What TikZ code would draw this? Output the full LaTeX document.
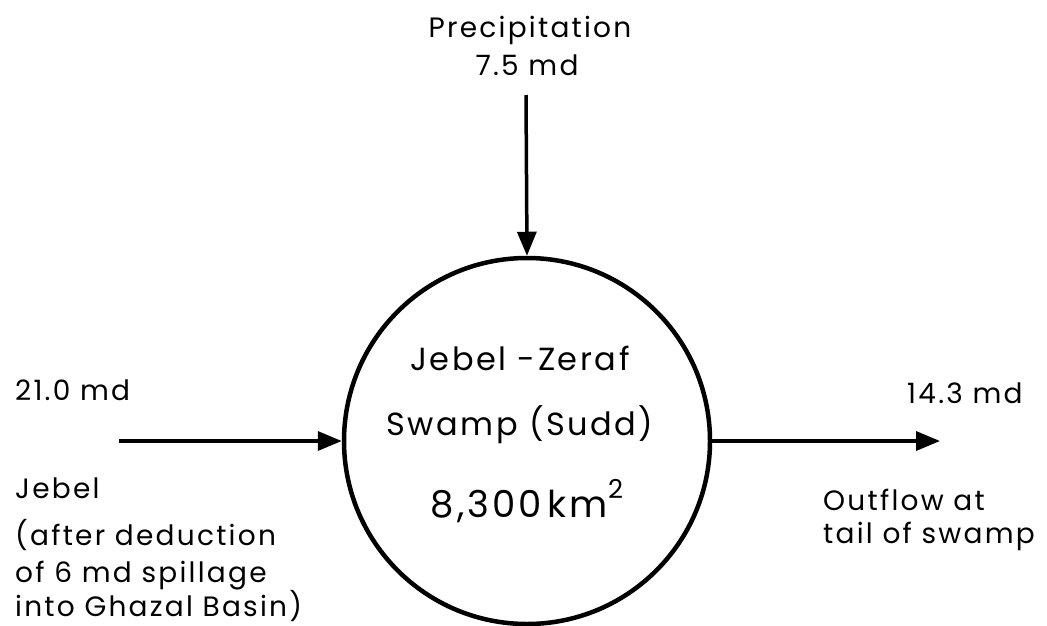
\documentclass[tikz,border=0pt]{standalone}
\usepackage{fontspec}
\setmainfont{Poppins}[LetterSpace=8]
\usetikzlibrary{arrows.meta}
\begin{document}
\begin{tikzpicture}[x=1pt,y=-1pt,
  txt/.style={inner sep=0pt, font=\fontsize{28}{32}\selectfont},
  intxt/.style={inner sep=0pt, font=\fontsize{32}{36}\selectfont},
  bigtxt/.style={inner sep=0pt, font=\fontsize{37}{42}\selectfont},
  flow/.style={line width=3.5pt, -{Triangle[length=24pt,width=19pt]}},
  tank/.style={circle, draw, line width=4.5pt, minimum size=366pt, inner sep=0pt}]
\useasboundingbox (0,0) rectangle (1047,625);

% the swamp as a storage element
\node[tank] (sudd) at (527,441) {};
\node[intxt, anchor=base] (name1) at (520,370) {Jebel -Zeraf};
\node[intxt, anchor=base] (name2) at (520,435) {Swamp (Sudd)};
\node[bigtxt, anchor=base] (area) at (527,517) {8,300\,km\raisebox{0.5em}{\fontsize{26}{26}\selectfont 2}};

% precipitation input
\node[txt, anchor=base] (prec1) at (530,37) {Precipitation};
\node[txt, anchor=base] (prec2) at (527,75) {7.5 md};
\coordinate (ptop) at (526,95);
\draw[flow] (ptop) -- (sudd.north);

% inflow from the Jebel
\coordinate (inl) at (119,441);
\draw[flow] (inl) -- (sudd.west);
\node[txt, anchor=base west] (inq) at (15,400) {21.0 md};
\node[txt, anchor=base west] (in1) at (15,498) {Jebel};
\node[txt, anchor=base west] (in2) at (15,545) {(after deduction};
\node[txt, anchor=base west] (in3) at (15,582) {of 6 md spillage};
\node[txt, anchor=base west] (in4) at (15,616) {into Ghazal Basin)};

% outflow at the tail
\coordinate (outr) at (940,441);
\draw[flow] (sudd.east) -- (outr);
\node[txt, anchor=base west] (outq) at (907,403) {14.3 md};
\node[txt, anchor=base west] (out1) at (823,510) {Outflow at};
\node[txt, anchor=base west] (out2) at (823,543) {tail of swamp};
\end{tikzpicture}
\end{document}
